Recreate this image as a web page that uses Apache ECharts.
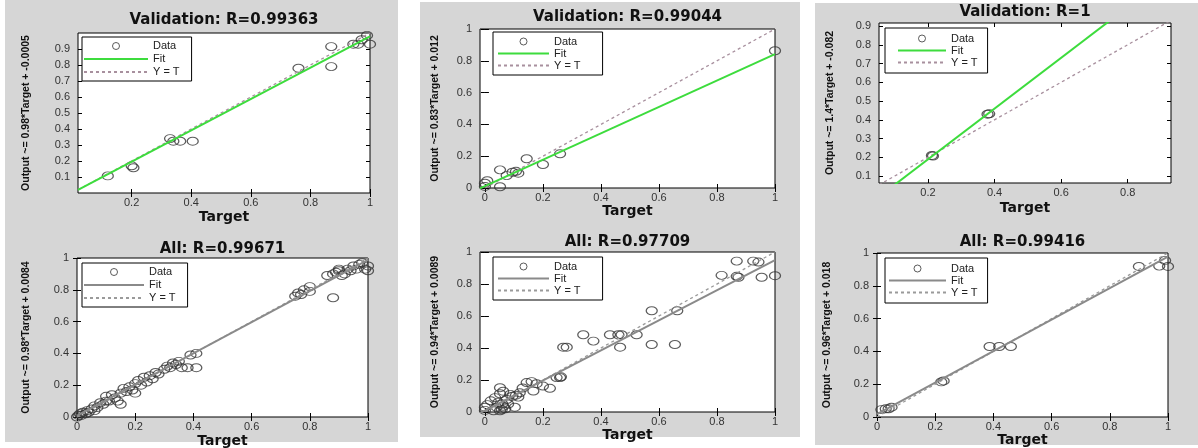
<!DOCTYPE html>
<html><head><meta charset="utf-8">
<script src="https://cdn.jsdelivr.net/npm/echarts@6/dist/echarts.min.js"></script>
<style>
html,body{margin:0;padding:0;background:#fff;}
#wrap{position:relative;width:1198px;height:448px;overflow:hidden;background:#fff;}
.panel{position:absolute;background:#d6d6d6;}
#chart{position:absolute;left:0;top:0;width:1198px;height:448px;}
</style></head><body>
<div id="wrap">
<div class="panel" style="left:5px;top:0;width:393px;height:442px"></div>
<div class="panel" style="left:420px;top:2px;width:380px;height:435px"></div>
<div class="panel" style="left:815px;top:3px;width:383px;height:442px"></div>
<div id="chart"></div>
</div>
<script>
// ---------------- DATA ----------------
const titles = ['Validation: R=0.99363','All: R=0.99671','Validation: R=0.99044','All: R=0.97709','Validation: R=1','All: R=0.99416'];
const yNames = ['Output ~= 0.98*Target + -0.0005','Output ~= 0.98*Target + 0.0084','Output ~= 0.83*Target + 0.012','Output ~= 0.94*Target + 0.0089','Output ~= 1.4*Target + -0.082','Output ~= 0.96*Target + 0.018'];
const xLabel = 'Target';
const legendNames = ['Data','Fit','Y = T'];

// [target, output] points
const points1 = [[0.12,0.107],[0.206,0.158],[0.2,0.17],[0.329,0.34],[0.34,0.324],[0.363,0.324],[0.405,0.324],[0.76,0.78],[0.87,0.915],[0.87,0.79],[0.944,0.93],[0.96,0.93],[0.972,0.958],[0.99,0.985],[1.0,0.93]];
const points2 = [[0,0],[0.005,0.01],[0.01,0.02],[0.015,0.01],[0.02,0.03],[0.03,0.02],[0.035,0.04],[0.04,0.03],[0.05,0.05],[0.06,0.04],[0.06,0.07],[0.07,0.06],[0.08,0.09],[0.09,0.08],[0.1,0.1],[0.1,0.13],[0.11,0.1],[0.12,0.14],[0.13,0.12],[0.14,0.1],[0.15,0.15],[0.15,0.08],[0.16,0.18],[0.17,0.16],[0.18,0.19],[0.19,0.17],[0.2,0.21],[0.2,0.15],[0.21,0.23],[0.22,0.2],[0.23,0.25],[0.24,0.22],[0.25,0.26],[0.26,0.24],[0.27,0.28],[0.28,0.27],[0.3,0.3],[0.31,0.32],[0.32,0.31],[0.33,0.34],[0.34,0.33],[0.35,0.35],[0.36,0.31],[0.38,0.31],[0.41,0.31],[0.39,0.39],[0.41,0.4],[0.76,0.78],[0.75,0.76],[0.77,0.77],[0.78,0.8],[0.8,0.79],[0.8,0.82],[0.88,0.75],[0.86,0.89],[0.88,0.9],[0.89,0.91],[0.9,0.92],[0.91,0.89],[0.92,0.9],[0.93,0.93],[0.94,0.92],[0.95,0.95],[0.96,0.93],[0.97,0.96],[0.98,0.97],[0.99,0.93],[1,0.95],[1,0.92],[0.9,0.93]];
const points3 = [[0,0.03],[0,0.01],[0.008,0.046],[0.052,0.114],[0.052,0.008],[0.075,0.078],[0.095,0.099],[0.107,0.105],[0.115,0.093],[0.144,0.184],[0.2,0.148],[0.259,0.215],[1.0,0.863]];
const points4 = [[1.0,0.852],[0.954,0.842],[0.868,0.943],[0.925,0.943],[0.943,0.937],[0.816,0.854],[0.868,0.848],[0.874,0.842],[0.663,0.633],[0.575,0.633],[0.575,0.422],[0.655,0.422],[0.339,0.483],[0.374,0.443],[0.282,0.405],[0.27,0.405],[0.431,0.483],[0.46,0.483],[0.471,0.483],[0.523,0.483],[0.466,0.405],[0.259,0.215],[0.262,0.22],[0.247,0.215],[0.144,0.184],[0.161,0.19],[0.178,0.177],[0.2,0.162],[0.224,0.148],[0.167,0.131],[0,0.03],[0,0.01],[0.008,0.046],[0.02,0.07],[0.052,0.114],[0.052,0.008],[0.04,0.03],[0.063,0.036],[0.075,0.078],[0.095,0.099],[0.107,0.105],[0.115,0.093],[0.052,0.152],[0.063,0.13],[0.087,0.11],[0.035,0.09],[0.046,0.06],[0.058,0.015],[0.03,0.008],[0.103,0.03],[0.12,0.12],[0.13,0.15],[0.08,0.05],[0.06,0.05],[0.07,0.02]];
const points5 = [[0.215,0.207],[0.212,0.21],[0.379,0.43],[0.384,0.432]];
const points6 = [[0.015,0.045],[0.03,0.05],[0.05,0.06],[0.04,0.05],[0.221,0.214],[0.229,0.22],[0.387,0.43],[0.42,0.43],[0.46,0.43],[0.9,0.918],[0.97,0.92],[1.0,0.918],[0.99,0.955]];

// fit line end points and Y = T end points
const fit1 = [[0.02,0.019],[1,0.979]];
const fit2 = [[0,0.008],[1,0.988]];
const fit3 = [[-0.017,-0.002],[1,0.842]];
const fit4 = [[-0.017,-0.007],[1,0.949]];
const fit5 = [[0.053,-0.01],[0.93,1.177]];
const fit6 = [[0,0.018],[1,0.978]];
const diag1 = [[0.02,0.02],[1,1]];
const diag2 = [[0,0],[1,1]];
const diag3 = [[-0.017,-0.017],[1,1]];
const diag4 = [[-0.017,-0.017],[1,1]];
const diag5 = [[0.053,0.053],[0.93,0.93]];
const diag6 = [[0,0],[1,1]];

// axis limits
const xRanges = [[0.02,1],[0,1],[-0.017,1],[-0.017,1],[0.053,0.93],[0,1]];
const yRanges = [[0,1],[0,1],[0,1],[0,1],[0.063,0.916],[0,1]];
// tick labels
const ticksA = [0.2,0.4,0.6,0.8,1];
const ticksB = [0.1,0.2,0.3,0.4,0.5,0.6,0.7,0.8,0.9];
const ticksC = [0,0.2,0.4,0.6,0.8,1];
const ticksD = [0.2,0.4,0.6,0.8];
const xTicks = [ticksA, ticksC, ticksC, ticksC, ticksD, ticksC];
const yTicks = [ticksB, ticksC, ticksC, ticksC, ticksB, ticksC];

const pointSets = [points1,points2,points3,points4,points5,points6];
const fits = [fit1,fit2,fit3,fit4,fit5,fit6];
const diags = [diag1,diag2,diag3,diag4,diag5,diag6];

// ---------------- LAYOUT / STYLE ----------------
const L = [
  {g:[78,33,292,160], ty:20, ng:17, yng:46, lg:{l:82,t:37,w:64,pad:[3,12,3,1],lh:12}},
  {g:[77,258,291,159], ty:249, ng:17, yng:45, lg:{l:82,t:263,w:60,pad:[3,12,3,1],lh:12}},
  {g:[480,29,295,159], ty:17, ng:12, yng:39, lg:{l:493,t:32,w:51,pad:[4,22,4,4],lh:10}},
  {g:[480,252,295,160], ty:242, ng:12, yng:39, lg:{l:493,t:257,w:51,pad:[4,22,4,4],lh:10}},
  {g:[879,23,292,160], ty:12, ng:18, yng:43, lg:{l:885,t:28,w:48,pad:[5,10,5,12],lh:10}},
  {g:[877,253,291,164], ty:242, ng:12, yng:44, lg:{l:885,t:258,w:57,pad:[5,10,5,3],lh:10}}
];
const topRow = [true,false,true,false,true,false];
const fmt = v => String(Math.round(v*100)/100);
const markerColor = '#333';

const grid=[], xAxis=[], yAxis=[], series=[], legend=[], graphic=[];
for (let i=0;i<6;i++){
  const l = L[i];
  grid.push({left:l.g[0], top:l.g[1], width:l.g[2], height:l.g[3], show:true, backgroundColor:'#fff', borderColor:'#000', borderWidth:1, outerBoundsMode:'none'});
  const tickBase = {inside:true, length:4, lineStyle:{color:'#000', width:1}};
  const lblBase = {fontSize:11, color:'#333', fontFamily:'Liberation Sans', formatter:fmt};
  xAxis.push({type:'value', gridIndex:i, min:xRanges[i][0], max:xRanges[i][1], position:'bottom',
    name:xLabel, nameLocation:'middle', nameGap:l.ng,
    nameTextStyle:{fontFamily:'DejaVu Sans', fontWeight:'bold', fontSize:14, color:'#111'},
    axisLine:{show:false}, splitLine:{show:false},
    axisTick:Object.assign({customValues:xTicks[i]}, tickBase),
    axisLabel:Object.assign({customValues:xTicks[i], margin:4}, lblBase)});
  xAxis.push({type:'value', gridIndex:i, min:xRanges[i][0], max:xRanges[i][1], position:'top',
    axisLine:{show:false}, splitLine:{show:false}, axisLabel:{show:false},
    axisTick:Object.assign({customValues:xTicks[i]}, tickBase)});
  yAxis.push({type:'value', gridIndex:i, min:yRanges[i][0], max:yRanges[i][1], position:'left',
    name:yNames[i], nameLocation:'middle', nameGap:l.yng,
    nameTextStyle:{fontFamily:'Liberation Sans', fontWeight:'bold', fontSize:10.5, color:'#111'},
    axisLine:{show:false}, splitLine:{show:false},
    axisTick:Object.assign({customValues:yTicks[i]}, tickBase),
    axisLabel:Object.assign({customValues:yTicks[i], margin:8}, lblBase)});
  yAxis.push({type:'value', gridIndex:i, min:yRanges[i][0], max:yRanges[i][1], position:'right',
    axisLine:{show:false}, splitLine:{show:false}, axisLabel:{show:false},
    axisTick:Object.assign({customValues:yTicks[i]}, tickBase)});
  const fitColor = topRow[i] ? '#3ddc3d' : '#8a8a8a';
  const diagColor = topRow[i] ? '#a8909e' : '#9a9a9a';
  const n = legendNames.map(s => s + '#' + i);
  series.push({type:'scatter', name:n[0], xAxisIndex:2*i, yAxisIndex:2*i, data:pointSets[i],
    symbol:'circle', symbolSize:[11,8], z:2,
    itemStyle:{color:'rgba(0,0,0,0)', borderColor:markerColor, borderWidth:1.1}});
  series.push({type:'line', name:n[2], xAxisIndex:2*i, yAxisIndex:2*i, data:diags[i],
    symbol:'none', z:3, clip:true, lineStyle:{color:diagColor, width:1.3, type:[3,3]}, itemStyle:{color:diagColor}});
  series.push({type:'line', name:n[1], xAxisIndex:2*i, yAxisIndex:2*i, data:fits[i],
    symbol:'none', z:4, clip:true, lineStyle:{color:fitColor, width:2}, itemStyle:{color:fitColor}});
  legend.push({show:true, orient:'vertical', left:l.lg.l, top:l.lg.t, selectedMode:false,
    itemWidth:l.lg.w, itemHeight:7, itemGap:1, padding:l.lg.pad,
    borderColor:'#000', borderWidth:1, backgroundColor:'#fff', borderRadius:0,
    formatter: name => name.split('#')[0],
    textStyle:{fontSize:11, color:'#222', fontFamily:'Liberation Sans', lineHeight:l.lg.lh},
    data:[
      {name:n[0], itemStyle:{color:'rgba(0,0,0,0)', borderColor:markerColor, borderWidth:1}},
      {name:n[1], itemStyle:{color:'rgba(0,0,0,0)', borderWidth:0, opacity:0}},
      {name:n[2], itemStyle:{color:'rgba(0,0,0,0)', borderWidth:0, opacity:0}}
    ]});
  graphic.push({type:'text', x:l.g[0]+l.g[2]/2, y:l.ty, z:10,
    style:{text:titles[i], align:'center', verticalAlign:'middle', fill:'#111',
      font:'bold 15px "DejaVu Sans"'}});
}

const chart = echarts.init(document.getElementById('chart'), null, {renderer:'canvas'});
chart.setOption({animation:false, grid, xAxis, yAxis, series, legend, graphic});
</script>
</body></html>
